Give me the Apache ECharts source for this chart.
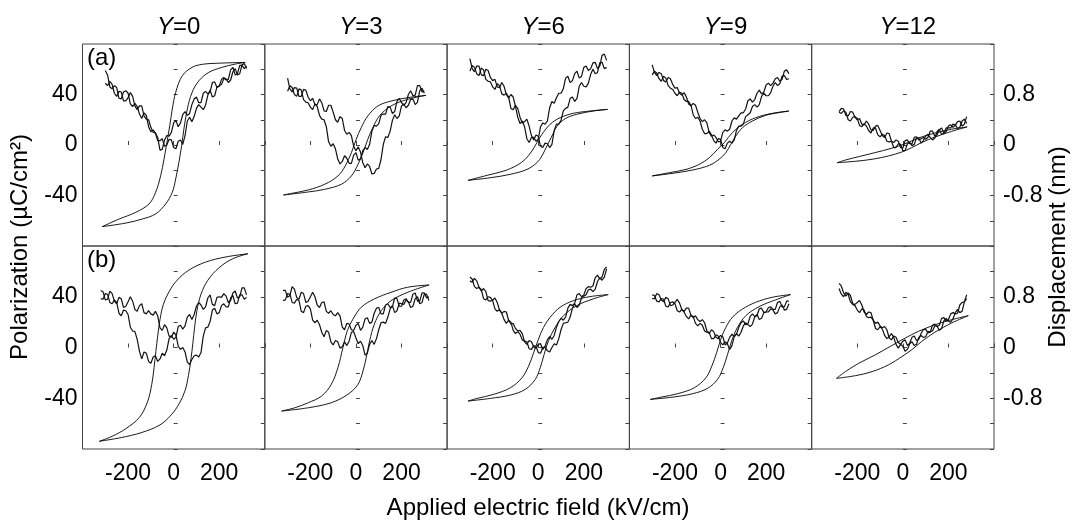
<!DOCTYPE html>
<html><head><meta charset="utf-8">
<script src="https://cdn.jsdelivr.net/npm/echarts@6/dist/echarts.min.js"></script>
<style>html,body{margin:0;padding:0;background:#fff}#c{width:1078px;height:531px}</style>
</head><body><div id="c"></div>
<script>
// ---- data ----
const COL_TITLES = ['0', '3', '6', '9', '12'];
const X_TICKS = [-200, 0, 200];
const P_TICKS = [-40, 0, 40];
const D_TICKS = [-0.8, 0, 0.8];
// sampling field values (kV/cm); even entries carry BF_* values, odd entries carry BF_*_MID values
const E_FINE = [-320,-310,-300,-290,-280,-270,-260,-250,-240,-230,-220,-210,-200,-190,-180,-170,-160,-150,-140,-130,-120,-110,-100,-90,-80,-70,-60,-50,-40,-30,-20,-10,0,10,20,30,40,50,60,70,80,90,100,110,120,130,140,150,160,170,180,190,200,210,220,230,240,250,260,270,280,290,300,310,320];

// P-E hysteresis loops [E (kV/cm), P (uC/cm2)]
const LOOP_1A_DN = [[314,65.4],[212,64.9],[125,63.9],[81,61.5],[38,54.9],[9,41.7],[-6,28.5],[-17,15.3],[-32,-0.5],[-42,-11],[-57,-24.3],[-79,-37.5],[-108,-46.7],[-166,-53.3],[-239,-58.6],[-314,-64.7]];
const LOOP_1A_UP = [[-314,-64.7],[-209,-61.8],[-137,-58.6],[-79,-54.6],[-35,-46.7],[-6,-37.5],[9,-26.9],[23,-13.7],[35,-0.5],[45,12.7],[60,28.5],[81,41.7],[111,50.9],[154,57.5],[212,61.5],[271,64.1],[314,65.4]];
const LOOP_1B_DN = [[326,73.9],[227,71.3],[140,67.3],[67,61],[15,53],[-20,44],[-45,34],[-60,22],[-70,9],[-78,-3],[-86,-16],[-96,-29],[-115,-43],[-150,-55],[-210,-64],[-270,-70],[-326,-73.9]];
const LOOP_1B_UP = [[-326,-73.9],[-230,-71],[-140,-67],[-60,-61],[-10,-53],[25,-44],[50,-34],[65,-22],[76,-9],[84,3],[92,16],[102,29],[120,42],[150,53],[200,63],[260,70],[326,73.9]];
const LOOP_2A_DN = [[307,39.3],[227,37.5],[154,34.8],[96,30.9],[52,23],[23,13.7],[1,4.5],[-20,-6.1],[-47,-16.6],[-79,-24.5],[-137,-31.1],[-209,-35.6],[-282,-38.3],[-318,-39.6]];
const LOOP_2A_UP = [[-318,-39.6],[-209,-37.2],[-137,-35.1],[-64,-31.1],[-20,-24.5],[9,-15.3],[31,-6.1],[52,4.5],[74,13.7],[103,23],[154,30.9],[227,36.2],[307,39.3]];
const LOOP_2B_DN = [[321,49.3],[227,47.5],[154,43.5],[81,38.3],[23,31.7],[-13,22.4],[-38,13.2],[-57,0],[-79,-15.8],[-108,-29],[-151,-38.3],[-209,-43.5],[-268,-47.5],[-326,-50.1]];
const LOOP_2B_UP = [[-326,-50.1],[-209,-47.5],[-108,-43.5],[-35,-36.9],[9,-29],[31,-18.5],[45,-7.9],[60,5.3],[81,18.5],[111,29],[154,36.9],[227,43.5],[321,49.3]];
const LOOP_3A_DN = [[304,28.2],[227,26.9],[154,25.1],[96,21.6],[52,16.4],[16,8.4],[-6,1.8],[-28,-4.8],[-57,-11.3],[-93,-16.1],[-151,-20.6],[-224,-24],[-308,-28]];
const LOOP_3A_UP = [[-308,-28],[-209,-25.9],[-122,-23.2],[-49,-19.3],[-6,-14],[16,-8.7],[38,-0.8],[60,7.1],[81,14.5],[118,20.8],[169,24.3],[241,26.9],[304,28.2]];
const LOOP_3B_DN = [[307,41.7],[227,40.1],[154,36.9],[96,31.7],[52,23.8],[23,15.8],[1,6.6],[-20,-4],[-42,-14.5],[-71,-23.8],[-122,-31.7],[-195,-36.9],[-268,-40.1],[-308,-42.2]];
const LOOP_3B_UP = [[-308,-42.2],[-209,-40.1],[-122,-37.5],[-57,-33],[-13,-25.1],[9,-15.8],[26,-5.3],[45,5.3],[74,15.8],[111,25.1],[169,33],[241,38.3],[307,41.7]];
const LOOP_4A_DN = [[300,26.9],[227,25.1],[154,21.6],[96,16.4],[52,9.8],[16,1.8],[-13,-3.4],[-49,-10],[-93,-15.3],[-151,-19.3],[-224,-21.9],[-300,-24.5]];
const LOOP_4A_UP = [[-300,-24.5],[-209,-22.4],[-122,-19.8],[-49,-16.1],[-6,-11.3],[23,-6.1],[45,0.5],[67,7.1],[96,13.7],[140,19],[198,23.5],[256,25.6],[300,26.9]];
const LOOP_4B_DN = [[307,41.7],[227,39.6],[154,35.6],[96,30.3],[52,23.8],[23,15.8],[1,6.6],[-17,-4],[-38,-14.5],[-64,-23.8],[-115,-31.7],[-188,-36.4],[-260,-39.1],[-308,-40.9]];
const LOOP_4B_UP = [[-308,-40.9],[-209,-39.1],[-122,-36.4],[-57,-32.2],[-13,-25.1],[12,-15.8],[31,-5.3],[49,5.3],[74,15.8],[111,25.1],[169,32.2],[241,37.5],[307,41.7]];
const LOOP_5A_DN = [[282,14.3],[214,12.5],[141,9.5],[68,5.5],[10,1],[-48,-2.5],[-121,-6],[-193,-9.2],[-252,-11.9],[-288,-14]];
const LOOP_5A_UP = [[-288,-14],[-208,-12.9],[-135,-11.3],[-63,-8.7],[-4,-5.5],[39,-2.1],[83,2],[141,6.3],[214,10.8],[282,14.3]];
const LOOP_5B_DN = [[287,25.1],[214,21.9],[141,17.9],[68,12.7],[10,7.4],[-48,1.6],[-121,-5.8],[-193,-12.4],[-252,-19],[-291,-24.3]];
const LOOP_5B_UP = [[-291,-24.3],[-208,-22.2],[-135,-19],[-63,-13.7],[-4,-7.1],[39,-1.8],[83,4.8],[141,12.1],[214,19.3],[287,25.1]];

// displacement butterflies (nm): BF_* at E = -320,-300,...,320 ; BF_*_MID at E = -310,-290,...,310 (null = outside sweep)
const BF_1A_A = [null,0.98,1.01,0.82,0.85,0.70,0.75,0.77,0.56,0.62,0.41,0.28,0.19,-0.08,0.08,0.14,0.35,0.29,0.48,0.47,0.64,0.76,0.67,0.85,0.84,1.00,0.93,1.07,1.04,1.23,1.13,1.26,1.25];
const BF_1A_A_MID = [null,0.94,0.96,0.77,0.84,0.70,0.83,0.62,0.62,0.46,0.40,0.20,0.12,-0.07,0.15,0.20,0.39,0.35,0.53,0.50,0.73,0.67,0.82,0.81,0.99,0.91,1.04,1.03,1.19,1.11,1.26,1.21];
const BF_1A_B = [null,1.18,0.92,0.94,0.74,0.84,0.82,0.61,0.61,0.42,0.47,0.21,0.19,0.07,-0.02,0.09,-0.04,0.06,0.01,0.38,0.37,0.58,0.60,0.63,0.87,0.78,0.94,1.05,0.99,1.16,1.11,1.27,1.21];
const BF_1A_B_MID = [null,1.11,0.89,0.91,0.73,0.86,0.65,0.66,0.49,0.51,0.29,0.24,0.07,0.10,0.00,0.08,-0.06,0.08,0.15,0.44,0.45,0.64,0.56,0.79,0.76,0.92,0.96,1.05,1.03,1.21,1.13,1.29];
const BF_1B_A = [0.90,0.75,0.89,0.73,0.79,0.63,0.72,0.73,0.57,0.69,0.53,0.53,0.57,0.31,0.36,0.18,0.24,0.02,0.00,-0.23,-0.19,-0.12,-0.08,0.31,0.41,0.62,0.55,0.69,0.64,0.82,0.70,0.83,0.79];
const BF_1B_A_MID = [0.88,0.76,0.85,0.69,0.77,0.65,0.80,0.60,0.66,0.55,0.58,0.51,0.50,0.27,0.31,0.16,0.20,-0.03,-0.07,-0.27,-0.13,-0.15,0.18,0.32,0.59,0.53,0.66,0.64,0.78,0.69,0.83,0.76];
const BF_1B_B = [0.77,0.85,0.71,0.75,0.54,0.59,0.52,0.26,0.13,-0.18,-0.09,-0.25,-0.13,-0.18,-0.13,0.14,0.13,0.33,0.29,0.48,0.44,0.65,0.67,0.64,0.83,0.66,0.80,0.85,0.71,0.86,0.78,0.94,0.83];
const BF_1B_B_MID = [0.76,0.84,0.69,0.71,0.50,0.58,0.32,0.25,-0.06,-0.07,-0.22,-0.15,-0.22,-0.09,-0.04,0.19,0.16,0.35,0.34,0.52,0.52,0.71,0.60,0.78,0.68,0.79,0.79,0.81,0.74,0.89,0.80,0.94];
const BF_2A_A = [null,1.06,0.84,0.90,0.77,0.87,0.70,0.64,0.73,0.54,0.63,0.52,0.36,0.42,0.17,0.15,-0.09,-0.11,-0.36,-0.34,-0.45,-0.37,0.01,0.12,0.39,0.42,0.62,0.59,0.72,0.64,0.86,0.82,null];
const BF_2A_A_MID = [null,0.89,0.91,0.77,0.88,0.76,0.74,0.64,0.67,0.53,0.63,0.40,0.45,0.23,0.20,-0.02,-0.03,-0.28,-0.30,-0.46,-0.38,-0.23,0.13,0.22,0.48,0.46,0.65,0.63,0.73,0.68,0.90,null];
const BF_2A_B = [null,0.85,0.91,0.77,0.87,0.68,0.60,0.65,0.47,0.40,0.05,0.02,-0.22,-0.26,-0.21,-0.29,-0.12,-0.22,-0.04,0.01,0.31,0.34,0.49,0.61,0.50,0.69,0.67,0.67,0.86,0.79,0.94,0.86,null];
const BF_2A_B_MID = [null,0.94,0.80,0.89,0.72,0.67,0.56,0.61,0.41,0.29,-0.02,-0.06,-0.30,-0.17,-0.29,-0.16,-0.24,-0.09,-0.07,0.22,0.30,0.47,0.49,0.60,0.53,0.74,0.63,0.80,0.78,0.94,0.84,null];
const BF_2B_A = [0.90,0.79,0.96,0.79,0.87,0.71,0.80,0.80,0.63,0.72,0.54,0.52,0.55,0.32,0.38,0.28,0.35,0.27,0.45,0.38,0.54,0.63,0.53,0.69,0.64,0.77,0.65,0.77,0.71,0.86,0.73,0.86,0.80];
const BF_2B_A_MID = [0.90,0.82,0.92,0.76,0.85,0.73,0.87,0.67,0.71,0.57,0.58,0.50,0.50,0.28,0.37,0.27,0.38,0.32,0.47,0.40,0.62,0.53,0.67,0.63,0.78,0.65,0.75,0.71,0.84,0.73,0.86,0.78];
const BF_2B_B = [0.74,0.85,0.71,0.76,0.57,0.65,0.61,0.39,0.36,0.17,0.24,0.04,0.09,0.01,0.03,0.24,0.15,0.10,-0.12,0.05,0.05,0.28,0.40,0.48,0.66,0.58,0.69,0.75,0.63,0.77,0.69,0.84,0.74];
const BF_2B_B_MID = [0.75,0.84,0.70,0.74,0.55,0.66,0.43,0.43,0.24,0.27,0.09,0.11,-0.01,0.09,0.10,0.25,0.06,0.03,-0.09,0.11,0.14,0.39,0.38,0.61,0.55,0.70,0.68,0.72,0.65,0.80,0.71,0.84];
const BF_3A_A = [null,1.37,1.16,1.25,1.10,1.18,1.02,0.92,0.99,0.80,0.80,0.61,0.34,0.29,0.04,0.12,0.09,0.35,0.38,0.69,0.75,0.82,1.06,0.99,1.13,1.06,1.23,1.18,1.30,1.21,1.42,1.34,null];
const BF_3A_A_MID = [null,1.21,1.25,1.11,1.20,1.07,1.04,0.91,0.93,0.74,0.76,0.44,0.38,0.10,0.12,0.06,0.29,0.33,0.59,0.66,0.82,0.89,1.09,1.02,1.17,1.09,1.25,1.21,1.31,1.25,1.44,null];
const BF_3A_B = [null,1.17,1.23,1.10,1.19,1.01,0.92,0.97,0.81,0.82,0.58,0.63,0.44,0.37,0.30,0.08,0.14,-0.04,0.02,0.01,0.33,0.39,0.58,0.74,0.69,0.93,0.93,0.98,1.20,1.15,1.31,1.23,null];
const BF_3A_B_MID = [null,1.26,1.13,1.22,1.04,1.00,0.88,0.94,0.79,0.76,0.56,0.58,0.35,0.41,0.15,0.16,-0.02,0.03,-0.04,0.23,0.33,0.54,0.60,0.76,0.74,0.99,0.92,1.12,1.13,1.30,1.21,null];
const BF_3B_A = [null,1.05,1.09,0.95,0.93,0.74,0.75,0.71,0.54,0.56,0.37,0.30,0.27,0.09,0.11,0.01,0.05,-0.03,0.12,0.13,0.32,0.46,0.48,0.68,0.70,0.85,0.83,0.96,0.97,1.14,1.11,1.27,null];
const BF_3B_A_MID = [null,1.03,1.05,0.89,0.88,0.73,0.78,0.59,0.57,0.43,0.38,0.26,0.22,0.05,0.09,-0.01,0.06,0.02,0.17,0.19,0.41,0.43,0.62,0.66,0.83,0.80,0.93,0.95,1.10,1.08,1.23,null];
const BF_3B_B = [null,1.11,0.96,0.95,0.77,0.80,0.74,0.57,0.54,0.38,0.40,0.22,0.21,0.10,-0.02,0.03,-0.08,0.00,-0.05,0.00,0.04,0.28,0.39,0.48,0.69,0.67,0.81,0.91,0.88,1.04,1.06,1.24,null];
const BF_3B_B_MID = [null,1.08,0.93,0.91,0.75,0.79,0.61,0.60,0.44,0.43,0.27,0.25,0.12,0.09,-0.03,0.02,-0.09,0.01,-0.07,0.06,0.14,0.38,0.40,0.62,0.63,0.78,0.83,0.92,0.92,1.10,1.11,null];
const BF_4A_A = [null,1.27,1.10,1.13,1.00,1.05,0.90,0.82,0.83,0.65,0.66,0.52,0.37,0.35,0.14,0.12,0.06,0.24,0.25,0.43,0.46,0.51,0.70,0.68,0.82,0.81,0.95,0.94,1.05,1.01,1.17,1.13,null];
const BF_4A_A_MID = [null,1.15,1.15,1.02,1.07,0.96,0.91,0.79,0.76,0.62,0.63,0.42,0.40,0.20,0.16,0.05,0.20,0.22,0.38,0.41,0.51,0.57,0.73,0.72,0.87,0.84,0.98,0.98,1.07,1.04,1.19,null];
const BF_4A_B = [null,1.11,1.14,1.01,1.06,0.90,0.82,0.84,0.72,0.69,0.48,0.44,0.25,0.18,0.16,0.03,0.09,-0.06,0.06,0.08,0.30,0.33,0.48,0.61,0.60,0.77,0.78,0.83,0.99,0.97,1.10,1.05,null];
const BF_4A_B_MID = [null,1.17,1.05,1.09,0.94,0.88,0.78,0.82,0.69,0.63,0.42,0.38,0.18,0.22,0.07,0.10,-0.04,0.03,0.03,0.23,0.30,0.45,0.51,0.64,0.64,0.82,0.78,0.93,0.94,1.09,1.04,null];
const BF_4B_A = [null,0.77,0.85,0.75,0.79,0.66,0.71,0.70,0.57,0.62,0.47,0.44,0.44,0.26,0.28,0.16,0.19,0.04,0.16,0.17,0.32,0.42,0.37,0.53,0.50,0.62,0.56,0.64,0.60,0.73,0.64,0.73,null];
const BF_4B_A_MID = [null,0.77,0.83,0.72,0.77,0.67,0.76,0.60,0.62,0.51,0.50,0.41,0.39,0.22,0.25,0.14,0.17,0.07,0.21,0.21,0.39,0.36,0.49,0.49,0.61,0.55,0.63,0.60,0.71,0.64,0.73,null];
const BF_4B_B = [null,0.83,0.73,0.77,0.65,0.71,0.69,0.56,0.56,0.45,0.49,0.34,0.35,0.24,0.14,0.20,0.08,0.09,-0.03,0.17,0.18,0.34,0.36,0.37,0.52,0.46,0.56,0.61,0.53,0.64,0.59,0.69,null];
const BF_4B_B_MID = [null,0.82,0.72,0.76,0.64,0.72,0.58,0.60,0.49,0.51,0.38,0.38,0.26,0.24,0.14,0.18,0.04,0.06,0.03,0.22,0.24,0.39,0.33,0.48,0.44,0.55,0.56,0.59,0.55,0.67,0.60,null];
const BF_5A_A = [null,null,0.53,0.57,0.46,0.52,0.40,0.33,0.38,0.24,0.30,0.23,0.12,0.18,0.04,0.06,-0.05,0.08,0.02,0.13,0.10,0.09,0.22,0.14,0.24,0.19,0.30,0.28,0.37,0.30,0.45,null,null];
const BF_5A_A_MID = [null,null,0.58,0.47,0.53,0.44,0.42,0.32,0.33,0.23,0.31,0.15,0.19,0.06,0.08,-0.04,0.07,0.02,0.12,0.08,0.12,0.12,0.22,0.16,0.27,0.21,0.32,0.31,0.38,0.33,null,null];
const BF_5A_B = [null,null,0.52,0.54,0.40,0.44,0.42,0.29,0.30,0.19,0.27,0.13,0.15,0.05,-0.04,0.02,-0.09,0.02,-0.01,0.11,0.03,0.14,0.12,0.11,0.25,0.18,0.27,0.33,0.26,0.38,0.34,null,null];
const BF_5A_B_MID = [null,null,0.50,0.52,0.38,0.45,0.31,0.34,0.23,0.27,0.16,0.17,0.06,0.06,-0.04,0.01,-0.09,0.04,0.01,0.11,0.07,0.17,0.08,0.21,0.17,0.27,0.27,0.32,0.28,0.41,null,null];
const BF_5B_A = [null,null,1.01,0.86,0.86,0.69,0.71,0.67,0.52,0.55,0.38,0.34,0.33,0.15,0.18,0.08,0.10,0.03,0.16,0.11,0.22,0.29,0.24,0.37,0.35,0.47,0.44,0.55,0.54,0.71,0.83,null,null];
const BF_5B_A_MID = [null,null,0.97,0.81,0.82,0.68,0.74,0.56,0.56,0.43,0.40,0.31,0.28,0.12,0.16,0.05,0.12,0.07,0.18,0.13,0.28,0.23,0.35,0.33,0.46,0.42,0.53,0.53,0.67,0.72,null,null];
const BF_5B_B = [null,null,0.93,0.80,0.84,0.68,0.59,0.61,0.49,0.48,0.30,0.33,0.19,0.17,0.16,-0.01,0.02,-0.03,0.09,0.05,0.19,0.17,0.25,0.34,0.27,0.42,0.41,0.45,0.60,0.57,0.77,null,null];
const BF_5B_B_MID = [null,null,0.84,0.87,0.72,0.66,0.55,0.59,0.47,0.43,0.28,0.29,0.14,0.22,0.05,0.05,-0.06,0.06,0.03,0.16,0.16,0.25,0.26,0.34,0.30,0.46,0.40,0.55,0.55,0.72,null,null];

const PANELS = [
  [LOOP_1A_DN, LOOP_1A_UP, BF_1A_A, BF_1A_A_MID, BF_1A_B, BF_1A_B_MID],
  [LOOP_2A_DN, LOOP_2A_UP, BF_2A_A, BF_2A_A_MID, BF_2A_B, BF_2A_B_MID],
  [LOOP_3A_DN, LOOP_3A_UP, BF_3A_A, BF_3A_A_MID, BF_3A_B, BF_3A_B_MID],
  [LOOP_4A_DN, LOOP_4A_UP, BF_4A_A, BF_4A_A_MID, BF_4A_B, BF_4A_B_MID],
  [LOOP_5A_DN, LOOP_5A_UP, BF_5A_A, BF_5A_A_MID, BF_5A_B, BF_5A_B_MID],
  [LOOP_1B_DN, LOOP_1B_UP, BF_1B_A, BF_1B_A_MID, BF_1B_B, BF_1B_B_MID],
  [LOOP_2B_DN, LOOP_2B_UP, BF_2B_A, BF_2B_A_MID, BF_2B_B, BF_2B_B_MID],
  [LOOP_3B_DN, LOOP_3B_UP, BF_3B_A, BF_3B_A_MID, BF_3B_B, BF_3B_B_MID],
  [LOOP_4B_DN, LOOP_4B_UP, BF_4B_A, BF_4B_A_MID, BF_4B_B, BF_4B_B_MID],
  [LOOP_5B_DN, LOOP_5B_UP, BF_5B_A, BF_5B_A_MID, BF_5B_B, BF_5B_B_MID]
];

// ---- layout ----
const FONT = '"Liberation Sans", Arial, Helvetica, sans-serif';
const G_LEFT = 82.5, G_W = 182.3;
const ROW_TOP = [44, 246], ROW_H = [202, 203];
const TICK_FS = 23, TITLE_FS = 24;

const near = (v, list) => list.some(t => Math.abs(v - t) < 1e-6);
function butterfly(main, mid) {
  const d = [];
  for (let k = 0; k < main.length; k++) {
    if (main[k] !== null && main[k] !== undefined) d.push([E_FINE[2 * k], main[k]]);
    if (k < mid.length && mid[k] !== null && mid[k] !== undefined) d.push([E_FINE[2 * k + 1], mid[k]]);
  }
  return d;
}
const grids = [], xAxes = [], yAxes = [], series = [];
PANELS.forEach((p, i) => {
  const row = Math.floor(i / 5), col = i % 5;
  grids.push({ left: G_LEFT + col * G_W, top: ROW_TOP[row], width: G_W, height: ROW_H[row],
    show: true, borderColor: '#444', borderWidth: 1, containLabel: false });
  xAxes.push({ gridIndex: i, type: 'value', min: -400, max: 400, interval: 200,
    axisLine: { show: false }, splitLine: { show: false },
    axisTick: { show: true, inside: true, length: 4, lineStyle: { color: '#444' } },
    axisLabel: { show: row === 1, margin: 13, fontSize: TICK_FS, color: '#000', fontFamily: FONT,
      formatter: v => near(v, X_TICKS) ? String(v) : '' } });
  yAxes.push({ gridIndex: i, type: 'value', position: 'left', min: -80, max: 80, interval: 20,
    axisLine: { show: false }, splitLine: { show: false },
    axisTick: { show: true, inside: true, length: 4, lineStyle: { color: '#444' } },
    axisLabel: { show: col === 0, margin: 5, fontSize: TICK_FS, color: '#000', fontFamily: FONT,
      formatter: v => near(v, P_TICKS) ? String(Math.round(v)) : '' } });
  yAxes.push({ gridIndex: i, type: 'value', position: 'right', min: -1.6, max: 1.6, interval: 0.4,
    axisLine: { show: false }, splitLine: { show: false },
    axisTick: { show: true, inside: true, length: 4, lineStyle: { color: '#444' } },
    axisLabel: { show: col === 4, margin: 9, fontSize: TICK_FS, color: '#000', fontFamily: FONT,
      formatter: v => near(v, D_TICKS) ? (Math.abs(v) < 1e-6 ? '0' : (v > 0 ? '0.8' : '-0.8')) : '' } });
  const common = { type: 'line', xAxisIndex: i, showSymbol: false, silent: true, animation: false };
  series.push(Object.assign({}, common, { yAxisIndex: 2 * i, data: p[0], smooth: 0.35, lineStyle: { width: 0.9, color: '#000' } }));
  series.push(Object.assign({}, common, { yAxisIndex: 2 * i, data: p[1], smooth: 0.35, lineStyle: { width: 0.9, color: '#000' } }));
  series.push(Object.assign({}, common, { yAxisIndex: 2 * i + 1, data: butterfly(p[2], p[3]), lineStyle: { width: 1.2, color: '#111' } }));
  series.push(Object.assign({}, common, { yAxisIndex: 2 * i + 1, data: butterfly(p[4], p[5]), lineStyle: { width: 1.2, color: '#111' } }));
});

const titles = COL_TITLES.map((t, c) => ({
  text: '{i|Y}=' + t, left: G_LEFT + (c + 0.5) * G_W, top: 10, textAlign: 'center',
  textStyle: { fontSize: TITLE_FS, fontWeight: 'normal', color: '#000', fontFamily: FONT,
    rich: { i: { fontStyle: 'italic', fontSize: TITLE_FS, fontFamily: FONT, color: '#000' } } }
}));

const txt = (x, y, text, opts) => ({ type: 'text', x, y, silent: true, rotation: (opts && opts.rot) || 0,
  style: { text, fill: '#000', font: TITLE_FS + 'px ' + FONT, fontSize: TITLE_FS, fontFamily: FONT,
    align: (opts && opts.align) || 'center', verticalAlign: (opts && opts.va) || 'middle',
    textAlign: (opts && opts.align) || 'center', textVerticalAlign: (opts && opts.va) || 'middle' } });

const chart = echarts.init(document.getElementById('c'), null, { renderer: 'canvas' });
chart.setOption({
  animation: false,
  backgroundColor: '#fff',
  title: titles,
  grid: grids, xAxis: xAxes, yAxis: yAxes, series,
  graphic: [
    txt(20, 247, 'Polarization (µC/cm²)', { rot: Math.PI / 2 }),
    txt(1058, 247, 'Displacement (nm)', { rot: Math.PI / 2 }),
    txt(538, 508, 'Applied electric field (kV/cm)'),
    txt(87, 46, '(a)', { align: 'left', va: 'top' }),
    txt(87, 248, '(b)', { align: 'left', va: 'top' })
  ]
});
</script></body></html>
